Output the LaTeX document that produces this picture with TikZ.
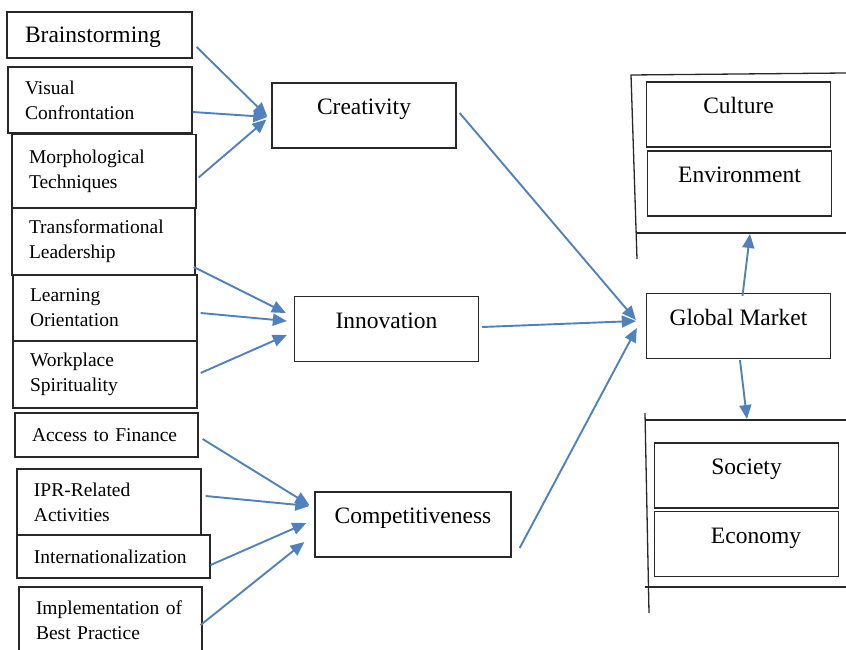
\documentclass[tikz,border=0pt]{standalone}
\usepackage{fontspec}
\setmainfont{Liberation Serif}
\usetikzlibrary{arrows.meta,calc}

\definecolor{arrowblue}{RGB}{79,129,189}
\definecolor{framegray}{RGB}{40,40,40}

\newcommand{\smalltxt}{\fontsize{19.5}{25}\selectfont}
\newcommand{\bigtxt}{\fontsize{23.5}{28}\selectfont}

\tikzset{
  box/.style={draw=framegray, line width=1.3pt},
  srcbox/.style n args={2}{box, font=\smalltxt, align=left, text width=#1pt,
    minimum height=#2pt, inner xsep=17pt, inner ysep=0pt},
  oneline/.style={text depth=0pt},
  tgtbox/.style={box, font=\bigtxt, minimum width=184pt, minimum height=65pt,
    text height=16pt, text depth=18pt, inner sep=0pt},
  frame/.style={draw=framegray, line width=1.3pt},
  arr/.style={draw=arrowblue, line width=1.9pt, -{Triangle[length=14pt,width=12pt]}}
}

\begin{document}
\begin{tikzpicture}[x=1pt,y=-1pt]
    \useasboundingbox (0,0) rectangle (846,650);

    % Left column: drivers
    \node[srcbox={149}{46}, oneline, font=\bigtxt, inner xsep=18pt] (brain) at (99.5,35) {Brainstorming};
    \node[srcbox={150}{66}] (visual) at (100,100) {Visual\\Confrontation};
    \node[srcbox={150}{74}] (morph) at (104,171.5) {Morphological\\Techniques};
    \node[srcbox={149}{67}] (transf) at (103.5,241.5) {Transformational\\Leadership};
    \node[srcbox={150}{66}] (learn) at (105,308) {Learning\\Orientation};
    \node[srcbox={150}{67}] (work) at (105,374.5) {Workplace\\Spirituality};
    \node[srcbox={149}{44}, oneline] (access) at (106.5,435) {Access to Finance};
    \node[srcbox={150}{66}] (ipr) at (109,502) {IPR-Related\\Activities};
    \node[srcbox={159}{43}, oneline] (intern) at (113.5,556.5) {Internationalization};
    \node[srcbox={149}{66}] (impl) at (110.5,620) {Implementation of\\Best Practice};

    % Middle column
    \node[tgtbox] (creat) at (364,115.5) {Creativity};
    \node[tgtbox] (innov) at (386.5,329) {Innovation};
    \node[tgtbox, minimum width=196pt] (comp) at (413,524.5) {Competitiveness};

    % Right column
    \node[tgtbox] (glob) at (738.5,326) {Global Market};
    \node[tgtbox] (culture) at (738.5,114.5) {Culture};
    \node[tgtbox] (env) at (739.5,183.5) {Environment};
    \node[tgtbox] (society) at (746.5,475.5) {Society};
    \node[tgtbox] (economy) at (746.5,544) {\hspace{19pt}Economy};

    % Open frames round the outcome boxes
    \draw[frame] (846,73) -- (631,75) -- (637,259);
    \draw[frame] (636,233) -- (846,233);
    \draw[frame] (846,420) -- (645,420);
    \draw[frame] (645,413) -- (649,613);
    \draw[frame] (645,587) -- (846,587);
    \coordinate (envbase) at (750,234);
    \coordinate (socbase) at (747,419);

    % Arrows into the middle column
    \draw[arr] ($(brain.east)+(4,12)$) -- ($(creat.west)+(-4,1)$);
    \draw[arr] ($(visual.east)+(0,12)$) -- ($(creat.west)+(-4,1.5)$);
    \draw[arr] ($(morph.east)+(2,6)$) -- ($(creat.west)+(-5,4)$);
    \draw[arr] ($(transf.east)+(-2,25.5)$) -- ($(innov.west)+(-8,-16)$);
    \draw[arr] ($(learn.east)+(3,5)$) -- ($(innov.west)+(-7,-8)$);
    \draw[arr] ($(work.east)+(3,-1.5)$) -- ($(innov.west)+(-7,6)$);
    \draw[arr] ($(access.east)+(4,4)$) -- ($(comp.west)+(-5,-19.5)$);
    \draw[arr] ($(ipr.east)+(4,-6)$) -- ($(comp.west)+(-5,-18.5)$);
    \draw[arr] ($(intern.east)+(0,8.5)$) -- ($(comp.west)+(-8,-1.5)$);
    \draw[arr] ($(impl.east)+(-2,5)$) -- ($(comp.west)+(-10,17.5)$);

    % Arrows into the global market
    \draw[arr] ($(creat.east)+(3,-2.5)$) -- ($(glob.west)+(-10,-6)$);
    \draw[arr] ($(innov.east)+(3,-2)$) -- ($(glob.west)+(-10,-5)$);
    \draw[arr] ($(comp.east)+(8,23.5)$) -- ($(glob.west)+(-9,2)$);

    % Out to the frames
    \draw[arr] ($(glob.north)+(4,3)$) -- (envbase);
    \draw[arr] ($(glob.south)+(1.5,1)$) -- (socbase);
\end{tikzpicture}
\end{document}
